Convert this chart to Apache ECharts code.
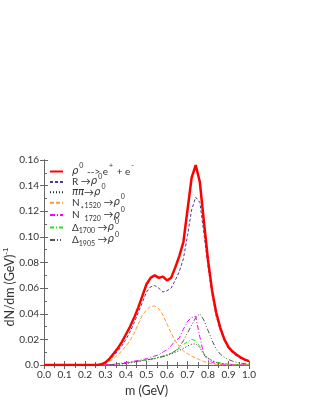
<!DOCTYPE html>
<html><head><meta charset="utf-8">
<script src="https://cdn.jsdelivr.net/npm/echarts@6/dist/echarts.min.js"></script>
<style>html,body{margin:0;padding:0;background:#fff}#c{width:316px;height:409px}</style>
</head><body><div id="c"></div>
<script>
const mass = [0.00,0.02,0.04,0.06,0.08,0.10,0.12,0.14,0.16,0.18,0.20,0.22,0.24,0.26,0.28,0.30,0.32,0.34,0.36,0.38,0.40,0.42,0.44,0.46,0.48,0.50,0.52,0.54,0.56,0.58,0.60,0.62,0.64,0.66,0.68,0.70,0.72,0.74,0.76,0.78,0.80,0.82,0.84,0.86,0.88,0.90,0.92,0.94,0.96,0.98,1.00];
const rhoTotal = [0,0,0,0,0,0,0,0,0,0,0,0,0,0,0.0005,0.002,0.005,0.009,0.013,0.018,0.024,0.030,0.037,0.045,0.054,0.063,0.068,0.070,0.068,0.069,0.066,0.068,0.076,0.085,0.096,0.121,0.146,0.156,0.143,0.112,0.082,0.058,0.041,0.029,0.020,0.014,0.0105,0.008,0.0058,0.0042,0.003];
const rFromR = [0,0,0,0,0,0,0,0,0,0,0,0,0,0,0.0003,0.0015,0.004,0.007,0.011,0.015,0.020,0.026,0.033,0.041,0.049,0.057,0.061,0.062,0.060,0.057,0.058,0.060,0.066,0.073,0.083,0.101,0.121,0.131,0.127,0.103,0.077,0.055,0.038,0.027,0.019,0.013,0.0095,0.007,0.005,0.0037,0.0027];
const pipi = [0,0,0,0,0,0,0,0,0,0,0,0,0,0,0,0,0.0002,0.0004,0.0006,0.0009,0.0013,0.0017,0.0022,0.0027,0.0033,0.0039,0.0045,0.0052,0.006,0.0068,0.0077,0.0087,0.0099,0.0113,0.013,0.0148,0.0162,0.0165,0.0135,0.0085,0.0052,0.0033,0.0021,0.0014,0.0009,0.0006,0.0004,0.0003,0.0002,0.0001,0.0001];
const n1520 = [0,0,0,0,0,0,0,0,0,0,0,0,0,0,0,0.001,0.003,0.005,0.008,0.011,0.015,0.019,0.025,0.032,0.039,0.043,0.046,0.046,0.044,0.039,0.032,0.025,0.019,0.0145,0.011,0.0088,0.007,0.0055,0.004,0.0027,0.0017,0.001,0.0005,0.0002,0.0001,0,0,0,0,0,0];
const n1720 = [0,0,0,0,0,0,0,0,0,0,0,0,0,0,0,0,0.0002,0.0005,0.001,0.0015,0.002,0.0025,0.003,0.0035,0.004,0.005,0.006,0.007,0.008,0.010,0.012,0.015,0.019,0.021,0.028,0.034,0.037,0.038,0.022,0.008,0.004,0.002,0.001,0.0005,0.0003,0.0002,0.0001,0,0,0,0];
const d1700 = [0,0,0,0,0,0,0,0,0,0,0,0,0,0,0,0,0.0002,0.0005,0.0008,0.001,0.0015,0.002,0.0025,0.003,0.0035,0.004,0.0045,0.005,0.006,0.007,0.008,0.009,0.011,0.013,0.016,0.018,0.020,0.019,0.0145,0.009,0.0055,0.0035,0.0022,0.0015,0.001,0.0007,0.0005,0.0004,0.0003,0.0002,0.0002];
const d1905 = [0,0,0,0,0,0,0,0,0,0,0,0,0,0,0,0,0.0002,0.0005,0.0008,0.001,0.0015,0.002,0.0025,0.003,0.0035,0.004,0.0045,0.005,0.0058,0.0065,0.0075,0.009,0.011,0.014,0.019,0.025,0.031,0.037,0.040,0.035,0.027,0.019,0.0125,0.0085,0.006,0.0043,0.003,0.0022,0.0015,0.001,0.0008];
const xTicks = [0.0,0.1,0.2,0.3,0.4,0.5,0.6,0.7,0.8,0.9,1.0];
const yTicks = [0.0,0.02,0.04,0.06,0.08,0.10,0.12,0.14,0.16];

const legendLabels = {
  rho: '{g|ρ}{sup|0} --> e{sup|+} + e{sup|-}',
  R: 'R →{g|ρ}{sup|0}',
  pipi: '{g|ππ}→{g|ρ}{sup|0}',
  N1520: 'N{sup|*}{sub|1520} →{g|ρ}{sup|0}',
  N1720: 'N{sup|*}{sub|1720} →{g|ρ}{sup|0}',
  D1700: 'Δ{sub|1700} →{g|ρ}{sup|0}',
  D1905: 'Δ{sub|1905} →{g|ρ}{sup|0}'
};
const zip = a => mass.map((m,i)=>[m,a[i]]);
const FONT = 'Lato';
const axisCol = '#666';
const chart = echarts.init(document.getElementById('c'), null, {renderer:'canvas'});
function mk(name, data, color, width, type, z){
  return {name, type:'line', data: zip(data), showSymbol:false, symbol:'none', z,
    lineStyle:{color, width, type}, itemStyle:{color}, animation:false};
}
chart.setOption({
  animation:false,
  backgroundColor:'#fff',
  grid:{left:44, right:67, top:160, bottom:44},
  textStyle:{fontFamily:FONT},
  legend:{
    orient:'vertical', left:49, top:162.5, padding:0, itemWidth:13, itemHeight:8, itemGap:-3.6,
    data:['rho','R','pipi','N1520','N1720','D1700','D1905'],
    itemStyle:{opacity:0},
    formatter: n => legendLabels[n],
    textStyle:{fontFamily:FONT, fontSize:10, color:'#333', lineHeight:10, padding:[0,0,0,4],
      rich:{
        g:{fontFamily:'DejaVu Sans', fontStyle:'italic', fontSize:10, lineHeight:10},
        sup:{fontSize:7, lineHeight:10, verticalAlign:'bottom', padding:[0,1,7,1]},
        sub:{fontSize:7, lineHeight:10, verticalAlign:'top', padding:[5,0,0,0]}
      }}
  },
  xAxis:[{
    type:'value', min:0, max:1, interval:0.1,
    name:'m (GeV)', nameLocation:'middle', nameGap:19,
    nameTextStyle:{fontFamily:FONT, fontSize:12.5, color:'#333'},
    axisLine:{lineStyle:{color:axisCol, width:1}},
    axisTick:{inside:true, length:4, lineStyle:{color:axisCol}},
    minorTick:{show:true, splitNumber:2, length:3, lineStyle:{color:axisCol}},
    splitLine:{show:false},
    axisLabel:{fontFamily:FONT, fontSize:10, color:'#333', margin:5, formatter:v=>v.toFixed(1)}
  },{
    type:'value', min:0, max:1, interval:0.1, position:'top',
    axisLine:{lineStyle:{color:axisCol, width:1}},
    axisTick:{inside:true, length:4, lineStyle:{color:axisCol}},
    minorTick:{show:true, splitNumber:2, length:3, lineStyle:{color:axisCol}},
    splitLine:{show:false}, axisLabel:{show:false}
  }],
  yAxis:[{
    type:'value', min:0, max:0.16, interval:0.02,
    axisLine:{show:true, lineStyle:{color:axisCol, width:1}},
    axisTick:{show:true, inside:true, length:4, lineStyle:{color:axisCol}},
    minorTick:{show:true, splitNumber:2, length:3, lineStyle:{color:axisCol}},
    splitLine:{show:false},
    axisLabel:{fontFamily:FONT, fontSize:10, color:'#333', margin:5, formatter:v=> v===0 ? '0.0' : v.toFixed(2)}
  },{
    type:'value', min:0, max:0.16, interval:0.02, position:'right',
    axisLine:{show:true, lineStyle:{color:axisCol, width:1}},
    axisTick:{show:true, inside:true, length:4, lineStyle:{color:axisCol}},
    splitLine:{show:false}, axisLabel:{show:false}
  }],
  graphic:[{
    type:'text', x:10, y:287, rotation:Math.PI/2,
    style:{text:'dN/dm (GeV){s|-1}', fontFamily:FONT, fontSize:12.5, fill:'#333', align:'center', verticalAlign:'middle',
      rich:{s:{fontSize:8, verticalAlign:'bottom', padding:[0,0,8,0]}}}
  }],
  series:[
    mk('pipi', pipi, '#222', 1, [1,2], 2),
    mk('D1700', d1700, '#22e022', 1, [4,2,1,2], 3),
    mk('D1905', d1905, '#555', 1, [5,2,1,2,1,2], 3),
    mk('N1720', n1720, '#ff00ff', 1, [5,2,1,2], 4),
    mk('N1520', n1520, '#ff9933', 1, [4,2], 4),
    mk('R', rFromR, '#4a3a9e', 1, [3,2], 5),
    mk('rho', rhoTotal, '#ff0000', 2.5, 'solid', 6)
  ]
});
</script></body></html>
